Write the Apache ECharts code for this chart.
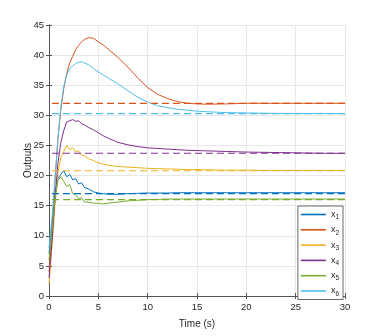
<!DOCTYPE html>
<html>
<head>
<meta charset="utf-8">
<script src="https://cdn.jsdelivr.net/npm/echarts@6/dist/echarts.min.js"></script>
<style>
  html, body { margin: 0; padding: 0; background: #fff; }
  #main { width: 382px; height: 336px; }
</style>
</head>
<body>
<div id="main"></div>
<script>
// time samples (s)
var time = [0, 0.3, 0.6, 0.9, 1.2, 1.5, 1.8, 2.1, 2.4, 2.7, 3.0, 3.3, 3.6, 4.0, 4.5, 5, 5.5, 6, 7, 8, 9, 10, 11, 12, 13, 14, 15, 16, 18, 20, 22, 24, 26, 28, 30];

var x1 = [7, 12, 17, 19.5, 20.2, 20.8, 19.8, 20.2, 19.3, 19.5, 18.6, 18.8, 18.0, 17.8, 17.3, 17.1, 17.0, 16.9, 16.9, 17.0, 17.05, 17.1, 17.1, 17.1, 17.15, 17.15, 17.15, 17.15, 17.15, 17.15, 17.15, 17.15, 17.15, 17.15, 17.15];
var x2 = [4, 11, 19, 26, 31, 34.5, 37, 38.7, 39.8, 40.9, 41.6, 42.2, 42.6, 42.9, 42.8, 42.2, 41.7, 41.0, 39.6, 38.0, 36.2, 34.6, 33.5, 32.8, 32.3, 32.0, 31.9, 31.85, 31.9, 32.0, 32.0, 32.0, 32.0, 32.0, 32.0];
var x3 = [2, 8, 15, 20.5, 23, 24, 25, 24.3, 24.6, 23.9, 24.1, 23.4, 23.3, 22.8, 22.5, 22.1, 21.9, 21.7, 21.5, 21.4, 21.3, 21.2, 21.15, 21.1, 21.05, 21.0, 21.0, 20.95, 20.9, 20.9, 20.85, 20.85, 20.85, 20.85, 20.85];
var x4 = [3, 9, 16, 22, 25.5, 27.5, 28.9, 29.1, 29.3, 29.0, 29.1, 28.6, 28.4, 28.0, 27.6, 27.1, 26.6, 26.2, 25.5, 25.1, 24.8, 24.6, 24.5, 24.4, 24.3, 24.2, 24.15, 24.1, 24.0, 23.9, 23.85, 23.8, 23.75, 23.7, 23.7];
var x5 = [6, 11, 16, 19.2, 19.8, 19.0, 18.2, 18.5, 17.0, 16.8, 16.2, 16.3, 15.6, 15.6, 15.4, 15.4, 15.3, 15.4, 15.6, 15.8, 15.9, 16.0, 16.05, 16.1, 16.1, 16.1, 16.1, 16.1, 16.1, 16.1, 16.1, 16.1, 16.1, 16.1, 16.1];
var x6 = [8, 13, 19, 26, 31.5, 34.8, 36.7, 37.8, 38.2, 38.6, 38.8, 38.9, 38.7, 38.4, 37.8, 37.2, 36.7, 36.2, 35.2, 34.1, 33.0, 32.2, 31.6, 31.3, 31.0, 30.85, 30.7, 30.6, 30.45, 30.4, 30.35, 30.3, 30.3, 30.3, 30.3];

// reference (dashed) levels
var refs = [17, 32, 20.8, 23.7, 16, 30.3];
var refStart = 0.3, refEnd = 30;

var names = ['x1', 'x2', 'x3', 'x4', 'x5', 'x6'];
var colors = ['#0072BD', '#D95319', '#EDB120', '#7E2F8E', '#77AC30', '#4DBEEE'];
var allSeries = [x1, x2, x3, x4, x5, x6];

var myChart = echarts.init(document.getElementById('main'));

var series = [];
allSeries.forEach(function (vals, i) {
    series.push({
        name: names[i],
        type: 'line',
        symbol: 'none',
        color: colors[i],
        lineStyle: { width: 1, color: colors[i] },
        data: time.map(function (t, k) { return [t, vals[k]]; }),
        z: 3
    });
});
refs.forEach(function (v, i) {
    series.push({
        name: 'ref' + (i + 1),
        type: 'line',
        symbol: 'none',
        lineStyle: { width: 1.2, color: colors[i], type: [7, 4] },
        data: [[refStart, v], [refEnd, v]],
        z: 4
    });
});

var axisCol = '#555';
var fontFam = 'Liberation Sans, Arial, sans-serif';

myChart.setOption({
    animation: false,
    textStyle: { fontFamily: fontFam },
    grid: { left: 49, right: 37, top: 25, bottom: 40 },
    legend: {
        data: names.map(function (n) { return { name: n, icon: 'rect' }; }),
        orient: 'vertical',
        right: 39,
        top: 206,
        itemWidth: 25,
        itemHeight: 1.6,
        itemGap: 2.3,
        padding: [2, 4, 2, 3],
        backgroundColor: '#fff',
        borderColor: '#444',
        borderWidth: 0.8,
        formatter: function (n) { return '{a|x}{s|' + n.slice(1) + '}'; },
        textStyle: {
            rich: {
                a: { fontSize: 9, color: '#262626', fontFamily: fontFam, lineHeight: 12 },
                s: { fontSize: 6.5, color: '#262626', fontFamily: fontFam, padding: [6, 0, 0, 0], lineHeight: 12 }
            }
        }
    },
    xAxis: [{
        type: 'value',
        min: 0, max: 30, interval: 5,
        name: 'Time (s)',
        nameLocation: 'middle',
        nameGap: 23,
        nameMoveOverlap: false,
        nameTextStyle: { fontSize: 10, color: '#262626' },
        axisLine: { show: true, lineStyle: { color: axisCol } },
        axisTick: { show: true, inside: true, length: 3, lineStyle: { color: axisCol } },
        axisLabel: { fontSize: 9.5, color: '#262626', margin: 6 },
        splitLine: { show: true, lineStyle: { color: '#e8e8e8' } }
    }, {
        type: 'value', position: 'top',
        min: 0, max: 30, interval: 5,
        axisLine: { show: true, lineStyle: { color: axisCol } },
        axisTick: { show: true, inside: true, length: 3, lineStyle: { color: axisCol } },
        axisLabel: { show: false },
        splitLine: { show: false }
    }],
    yAxis: [{
        type: 'value',
        min: 0, max: 45, interval: 5,
        name: 'Outputs',
        nameLocation: 'middle',
        nameGap: 16,
        nameMoveOverlap: false,
        nameTextStyle: { fontSize: 10, color: '#262626' },
        axisLine: { show: true, lineStyle: { color: axisCol } },
        axisTick: { show: true, inside: true, length: 3, lineStyle: { color: axisCol } },
        axisLabel: { fontSize: 9.5, color: '#262626', margin: 5 },
        splitLine: { show: true, lineStyle: { color: '#e8e8e8' } }
    }, {
        type: 'value', position: 'right',
        min: 0, max: 45, interval: 5,
        axisLine: { show: true, lineStyle: { color: axisCol } },
        axisTick: { show: true, inside: true, length: 3, lineStyle: { color: axisCol } },
        axisLabel: { show: false },
        splitLine: { show: false }
    }],
    series: series
});
</script>
</body>
</html>
